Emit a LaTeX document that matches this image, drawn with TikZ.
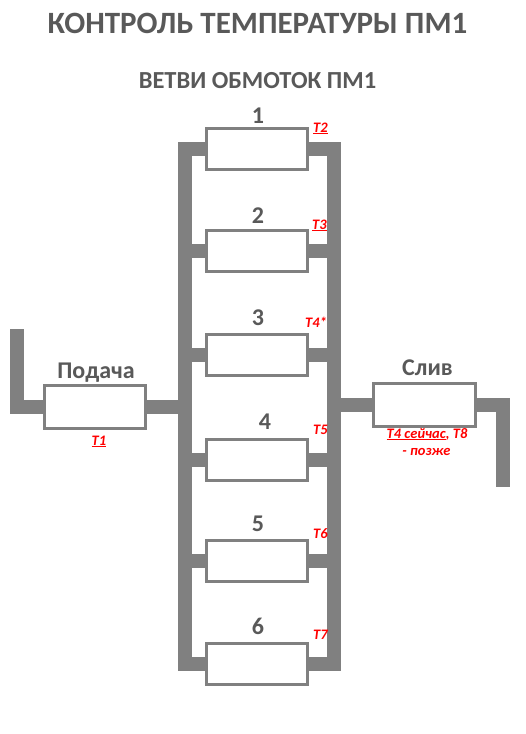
\documentclass[tikz,border=0pt]{standalone}
\usepackage{fontspec}
\setmainfont{Carlito}
\definecolor{pipegray}{HTML}{808080}
\definecolor{txtgray}{HTML}{595959}
\definecolor{tred}{HTML}{FF0000}
\begin{document}
\begin{tikzpicture}[x=1pt,y=-1pt,
  pipe/.style={draw=pipegray, line width=14pt, line join=miter},
  box/.style={draw=pipegray, line width=3pt, fill=white, minimum width=101pt, minimum height=41pt, inner sep=0pt, outer sep=0pt},
  num/.style={font=\fontsize{24}{24}\selectfont\bfseries, text=txtgray, anchor=base, inner sep=0pt},
  heading/.style={text=txtgray, anchor=base, inner sep=0pt},
  tlab/.style={font=\fontsize{14.5}{14.5}\selectfont\bfseries\itshape, text=tred, inner sep=0pt}]
\useasboundingbox (0,0) rectangle (526,734);

% titles
\node[heading, font=\fontsize{31}{31}\selectfont\bfseries] (title) at (257.5,33) {КОНТРОЛЬ ТЕМПЕРАТУРЫ ПМ1};
\node[heading, font=\fontsize{24.5}{24.5}\selectfont\bfseries] (subtitle) at (257.5,88) {ВЕТВИ ОБМОТОК ПМ1};

% branch boxes
\node[box] (b1) at (257,149) {};
\node[box] (b2) at (257,250.5) {};
\node[box] (b3) at (257,354.5) {};
\node[box] (b4) at (257,459.5) {};
\node[box] (b5) at (257,560.5) {};
\node[box] (b6) at (257,664) {};

% feed and drain boxes
\node[box, minimum height=43pt] (feed) at (95,407) {};
\node[box, minimum width=102pt, minimum height=43pt] (drain) at (424.5,405) {};

\coordinate (busL) at (185,0);
\coordinate (busR) at (334,0);
\coordinate (inL) at (16.5,329);
\coordinate (outR) at (503,487);

% buses
\draw[pipe] (b1.west) -- (b1.west -| busL) -- (b6.west -| busL) -- (b6.west);
\draw[pipe] (b1.east) -- (b1.east -| busR) -- (b6.east -| busR) -- (b6.east);
\foreach \i in {2,...,5}{
  \draw[pipe] (b\i.west -| busL) -- (b\i.west);
  \draw[pipe] (b\i.east -| busR) -- (b\i.east);
}

% feed and drain pipes
\draw[pipe] (inL) |- (feed.west);
\draw[pipe] (feed.east) -- (feed.east -| busL);
\draw[pipe] (drain.west -| busR) -- (drain.west);
\draw[pipe] (drain.east) -| (outR);

% numbers
\node[num] (n1) at (258,123) {1};
\node[num] (n2) at (258,223) {2};
\node[num] (n3) at (258,325) {3};
\node[num] (n4) at (265,429) {4};
\node[num] (n5) at (258,531) {5};
\node[num] (n6) at (258,634) {6};

\node[num] (lfeed) at (96,378) {Подача};
\node[num] (ldrain) at (427.5,375) {Слив};

% sensor labels
\node[tlab, anchor=base west] (t2) at (313,132) {\underline{T2}};
\node[tlab, anchor=base west] (t3) at (312,229) {\underline{T3}};
\node[tlab, anchor=base west] (t4) at (305,327) {T4*};
\node[tlab, anchor=base west] (t5) at (313,434) {T5};
\node[tlab, anchor=base west] (t6) at (313,538) {T6};
\node[tlab, anchor=base west] (t7) at (313,639) {T7};
\node[tlab, anchor=base] (t1) at (99,445) {\underline{T1}};
\node[tlab, anchor=base] (t48a) at (427,438) {\underline{T4 сейчас}, T8};
\node[tlab, anchor=base] (t48b) at (426.5,455) {- позже};
\end{tikzpicture}
\end{document}
